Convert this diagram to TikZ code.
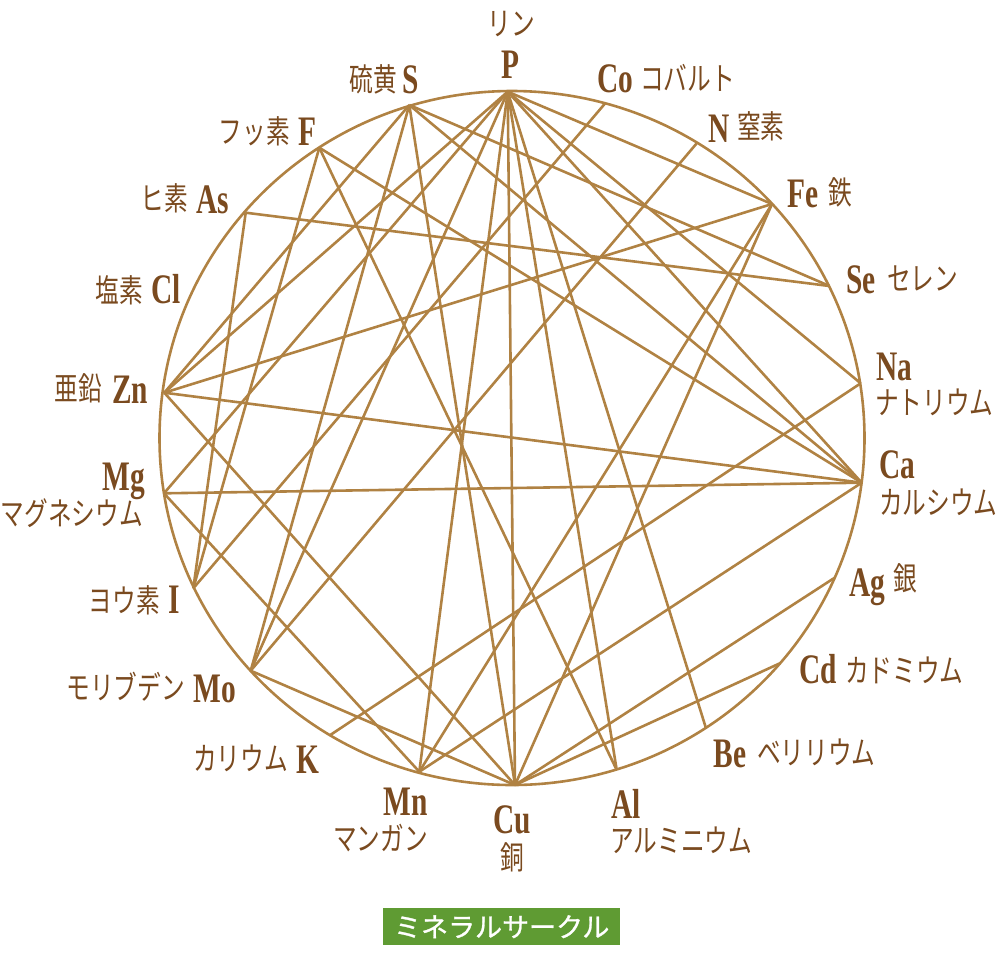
\documentclass[tikz,border=0pt]{standalone}
\usepackage{fontspec}
\newfontfamily\symf{Liberation Serif Bold}[FakeStretch=0.7]
\newfontfamily\jpf{Noto Sans CJK JP}[FakeStretch=0.74]
\newfontfamily\jpg{Noto Sans CJK JP}[FakeBold=1]
\definecolor{ln}{HTML}{B08243}
\definecolor{tx}{HTML}{7A4A1F}
\definecolor{gb}{HTML}{5F9B33}
\tikzset{
  lk/.style={draw=ln, line width=2.6pt},
  sym/.style={text=tx, font=\symf\fontsize{42}{42}\selectfont, inner sep=0pt, anchor=base},
  jp/.style={text=tx, font=\jpf\fontsize{32}{32}\selectfont, inner sep=0pt},
}
\begin{document}
\begin{tikzpicture}[x=1pt,y=-1pt]
\useasboundingbox (0,0) rectangle (1000,962);
% points on the circle
\coordinate (P) at (507.7,91.7);
\coordinate (S) at (409.3,105);
\coordinate (F) at (319.3,147.7);
\coordinate (As) at (245.7,212.7);
\coordinate (Zn) at (164.3,392.7);
\coordinate (Mg) at (164,493.3);
\coordinate (I) at (193.3,588.3);
\coordinate (Mo) at (250.7,670.7);
\coordinate (K) at (329.5,735.5);
\coordinate (Mn) at (419.3,771.7);
\coordinate (Cu) at (515,785);
\coordinate (Al) at (616.7,770);
\coordinate (Be) at (706,728.3);
\coordinate (Cd) at (780.5,663);
\coordinate (Ag) at (835,577.5);
\coordinate (Ca) at (861.7,482.7);
\coordinate (Na) at (860.7,383.3);
\coordinate (Se) at (829.5,286);
\coordinate (Fe) at (772,204);
\coordinate (N) at (696.7,143.3);
\coordinate (Co) at (605,103.5);
\draw[lk] (512,438) ellipse [x radius=352.5pt, y radius=347pt];
\foreach \a/\b in {P/Zn,P/Mo,P/Mn,P/Cu,P/Al,P/Be,P/Ca,P/Na,P/Fe,P/Mg,
  S/Se,S/Ca,S/Cu,S/Mo,S/Zn,F/I,F/Al,F/Ca,As/Se,As/I,Co/I,N/Mo,
  Fe/Zn,Fe/Mn,Fe/Cu,K/Na,Ca/Zn,Ca/Mg,Ca/Mn,Cu/Zn,Cu/Mo,Cu/Ag,Cu/Cd,Mn/Mg}
  \draw[lk] (\a) -- (\b);
% symbols
\node[sym] (tP) at (510,78) {P};
\node[sym] (tS) at (411,93) {S};
\node[sym] (tCo) at (615,92) {Co};
\node[sym] (tN) at (719,142) {N};
\node[sym] (tFe) at (803,207) {Fe};
\node[sym] (tSe) at (861,293) {Se};
\node[sym] (tNa) at (894,380) {Na};
\node[sym] (tCa) at (897,478) {Ca};
\node[sym] (tAg) at (867,596) {Ag};
\node[sym] (tCd) at (818,683) {Cd};
\node[sym] (tBe) at (730,767) {Be};
\node[sym] (tAl) at (626,818) {Al};
\node[sym] (tCu) at (512,833) {Cu};
\node[sym] (tMn) at (406,815) {Mn};
\node[sym] (tK) at (308,773) {K};
\node[sym] (tMo) at (215,702) {Mo};
\node[sym] (tI) at (174,613) {I};
\node[sym] (tMg) at (124,490) {Mg};
\node[sym] (tZn) at (130,403) {Zn};
\node[sym] (tCl) at (166,303) {Cl};
\node[sym] (tAs) at (213,213) {As};
\node[sym] (tF) at (307,145) {F};
% japanese names
\node[jp] (jP) at (511,24) {リン};
\node[jp, anchor=east] (jS) at (397,79) {硫黄};
\node[jp, anchor=west] (jCo) at (640,78) {コバルト};
\node[jp, anchor=west] (jN) at (737,126) {窒素};
\node[jp, anchor=west] (jFe) at (828,192) {鉄};
\node[jp, anchor=west] (jSe) at (887,278) {セレン};
\node[jp, anchor=west] (jNa) at (875,402) {ナトリウム};
\node[jp, anchor=west] (jCa) at (879,502) {カルシウム};
\node[jp, anchor=west] (jAg) at (893,578) {銀};
\node[jp, anchor=west] (jCd) at (845,670) {カドミウム};
\node[jp, anchor=west] (jBe) at (757,752) {ベリリウム};
\node[jp, anchor=west] (jAl) at (610,840) {アルミニウム};
\node[jp] (jCu) at (512,857) {銅};
\node[jp, anchor=east] (jMn) at (428,838) {マンガン};
\node[jp, anchor=east] (jK) at (288,758) {カリウム};
\node[jp, anchor=east] (jMo) at (185,687) {モリブデン};
\node[jp, anchor=east] (jI) at (160,600) {ヨウ素};
\node[jp, anchor=east] (jMg) at (143,513) {マグネシウム};
\node[jp, anchor=east] (jZn) at (102,388) {亜鉛};
\node[jp, anchor=east] (jCl) at (143,290) {塩素};
\node[jp, anchor=east] (jAs) at (188,198) {ヒ素};
\node[jp, anchor=east] (jF) at (290,131) {フッ素};
% title box
\node[fill=gb, text=white, font=\jpg\fontsize{27}{27}\selectfont, minimum width=236.7pt, minimum height=36.7pt, inner sep=0pt] (title) at (501.7,926.7) {ミネラルサークル};
\end{tikzpicture}
\end{document}
